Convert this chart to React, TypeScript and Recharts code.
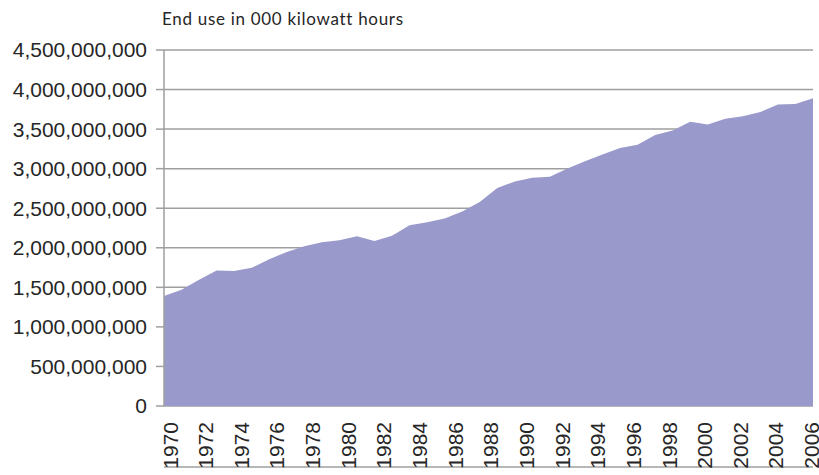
import { AreaChart, Area, XAxis, YAxis, CartesianGrid } from 'recharts'

// annual end use, thousand kWh
const years = [
  1970, 1971, 1972, 1973, 1974, 1975, 1976, 1977, 1978, 1979,
  1980, 1981, 1982, 1983, 1984, 1985, 1986, 1987, 1988, 1989,
  1990, 1991, 1992, 1993, 1994, 1995, 1996, 1997, 1998, 1999,
  2000, 2001, 2002, 2003, 2004, 2005, 2006, 2007,
]
const endUse = [
  1392000000, 1470000000, 1595000000, 1713000000, 1706000000, 1747000000, 1855000000, 1948000000, 2018000000, 2071000000,
  2094000000, 2147000000, 2086000000, 2151000000, 2286000000, 2324000000, 2369000000, 2457000000, 2578000000, 2755000000,
  2838000000, 2886000000, 2897000000, 3001000000, 3095000000, 3180000000, 3260000000, 3302000000, 3425000000, 3483000000,
  3592000000, 3557000000, 3632000000, 3662000000, 3716000000, 3811000000, 3817000000, 3890000000,
]
const yTicks = [0, 500000000, 1000000000, 1500000000, 2000000000, 2500000000, 3000000000, 3500000000, 4000000000, 4500000000]
const labelYears = [1970, 1972, 1974, 1976, 1978, 1980, 1982, 1984, 1986, 1988, 1990, 1992, 1994, 1996, 1998, 2000, 2002, 2004, 2006]
// year labels sit on their own scale, slightly wider spaced than the yearly ticks
const labelDomain = [1969.66, 2006.08]

const data = years.map((year, i) => ({ year, endUse: endUse[i] }))

const TEXT = '#262626'
const GRID = '#9f9f9f'
const FONT = 'Liberation Sans, Arial, sans-serif'

function YearTick({ x, y, payload }: { x?: number; y?: number; payload?: { value: number } }) {
  return (
    <text x={x} y={y} transform={`rotate(-90, ${x}, ${y})`} textAnchor="end" dominantBaseline="central"
      fontSize={21} fill={TEXT} fontFamily={FONT}>
      {payload?.value}
    </text>
  )
}

export default function App() {
  return (
    <div style={{ position: 'absolute', left: 0, top: 0, width: 819, height: 475, background: '#fff', overflow: 'hidden' }}>
      <div style={{ position: 'absolute', left: 162, top: 8, fontSize: 17, letterSpacing: 0.7, color: TEXT, fontFamily: 'Lato, sans-serif', whiteSpace: 'nowrap' }}>
        End use in 000 kilowatt hours
      </div>
      <AreaChart width={819} height={475} data={data} margin={{ top: 50, right: 6, left: 0, bottom: 0 }}>
        <CartesianGrid xAxisId="year" vertical={false} stroke={GRID} strokeWidth={1.5} />
        <XAxis xAxisId="year" dataKey="year" type="number" domain={[1970, 2007]} ticks={years}
          tick={false} tickSize={7} stroke={GRID} strokeWidth={1.5} height={8} />
        <XAxis xAxisId="labels" dataKey="year" type="number" domain={labelDomain} allowDataOverflow ticks={labelYears}
          axisLine={false} tickLine={false} tickSize={0} tickMargin={16} height={61} tick={<YearTick />} interval={0} />
        <YAxis type="number" domain={[0, 4500000000]} ticks={yTicks} width={164} tickSize={8} tickMargin={9}
          stroke={GRID} strokeWidth={1.5} interval={0}
          tick={{ fontSize: 21, fill: TEXT, fontFamily: FONT }}
          tickFormatter={(v: number) => v.toLocaleString('en-US')} />
        <Area xAxisId="year" type="linear" dataKey="endUse" stroke="none" fill="#9999cc" fillOpacity={1}
          isAnimationActive={false} />
      </AreaChart>
    </div>
  )
}
